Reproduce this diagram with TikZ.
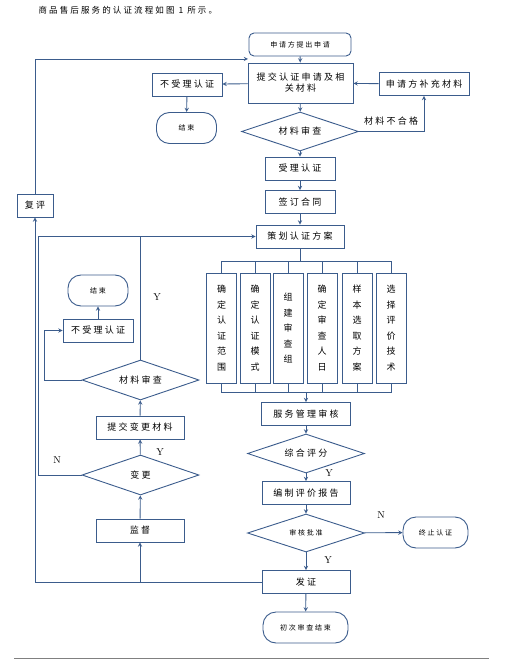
\documentclass[tikz,border=0pt]{standalone}
\usepackage{fontspec}
\usetikzlibrary{shapes.geometric}
\newfontfamily\cjk[LetterSpace=25]{Noto Sans CJK SC}
\definecolor{linecol}{RGB}{59,92,140}
\newcommand{\bigtxt}{\cjk\fontsize{9}{11}\selectfont}
\newcommand{\smalltxt}{\cjk\fontsize{7}{9}\selectfont}
\newcommand{\captxt}{\cjk\fontsize{8.5}{10}\selectfont}
\newcommand{\vtxt}{\cjk\fontsize{9}{15.5}\selectfont}

\tikzset{
  box/.style={draw=linecol, line width=0.9pt, minimum width=88, minimum height=23, inner sep=0pt, font=\bigtxt},
  tbox/.style={box, rounded corners=13pt, minimum width=60, minimum height=31, font=\smalltxt},
  decide/.style={box, diamond, aspect=3, minimum width=117, minimum height=39},
  vbox/.style={box, minimum width=30, minimum height=110, align=center, font=\vtxt},
  flow/.style={draw=linecol, line width=0.9pt},
  lbl/.style={text=black, inner sep=0pt, font=\fontsize{10}{12}\selectfont}
}

\begin{document}
\begin{tikzpicture}[x=1pt, y=-1pt, >=stealth]
    \useasboundingbox (0,0) rectangle (521,660);
    \node[anchor=west, font=\captxt] (cap) at (35,10) {商品售后服务的认证流程如图 1 所示。};

    % application part
    \node[box, rounded corners=5pt, minimum width=102, font=\smalltxt] (apply) at (300,44.5) {申请方提出申请};
    \node[box, minimum width=105, minimum height=40, align=center] (submit) at (300.5,83) {提交认证申请及相\\关材料};
    \node[box, minimum width=70] (reject1) at (187,84.5) {不受理认证};
    \node[tbox] (end1) at (186.5,128) {结束};
    \node[box, minimum width=90] (supply) at (424,84) {申请方补充材料};
    \node[decide] (check1) at (300,131.5) {材料审查};
    \node[box, minimum width=70] (accept) at (300,168.5) {受理认证};
    \node[box, minimum width=70] (contract) at (300,202) {签订合同};
    \node[box] (plan) at (300,236.5) {策划认证方案};
    \node[box, minimum width=36] (review) at (35,205.5) {复评};
    \node[lbl, font=\bigtxt] (fail) at (391,121) {材料不合格};

    \draw[flow,->] (apply) -- (submit);
    \draw[flow,->] (submit) -- (reject1);
    \draw[flow,->] (reject1) -- (end1);
    \draw[flow,->] (supply) -- (submit);
    \draw[flow,->] (submit) -- (check1);
    \draw[flow,->] (check1.east) -| (supply.south);
    \draw[flow,->] (check1) -- (accept);
    \draw[flow,->] (accept) -- (contract);
    \draw[flow,->] (contract) -- (plan);
    \coordinate (reentry) at (248,59);
    \draw[flow,->] (review.north) |- (reentry);

    % six tasks
    \foreach \x/\txt [count=\i] in {221.5/{确\\定\\认\\证\\范\\围}, 255/{确\\定\\认\\证\\模\\式},
        288/{组\\建\\审\\查\\组}, 322/{确\\定\\审\\查\\人\\日},
        357/{样\\本\\选\\取\\方\\案}, 391/{选\\择\\评\\价\\技\\术}}
        \node[vbox] (b\i) at (\x,328) {\txt};
    \coordinate (bustop) at (300,261);
    \coordinate (busbot) at (306,392);
    \draw[flow] (plan) -- (bustop);
    \foreach \i in {1,...,6}
        \draw[flow] (bustop) -| (b\i.north);
    \foreach \i in {1,...,6}
        \draw[flow] (b\i.south) |- (busbot);

    % evaluation part
    \node[box, minimum width=89] (mgmt) at (306,414) {服务管理审核};
    \node[decide] (score) at (306,453.5) {综合评分};
    \node[box] (report) at (306,493) {编制评价报告};
    \node[decide, minimum height=38, font=\smalltxt] (approve) at (306,533) {审核批准};
    \node[tbox, minimum width=65] (stop) at (435.5,532.5) {终止认证};
    \node[box] (cert) at (306,582) {发证};
    \node[tbox, minimum width=85] (end3) at (305.5,627.5) {初次审查结束};
    \node[lbl] (y3) at (329,473) {Y};
    \node[lbl] (n2) at (381,515) {N};
    \node[lbl] (y4) at (328,560) {Y};

    \draw[flow,->] (busbot) -- (mgmt);
    \draw[flow,->] (mgmt) -- (score);
    \draw[flow,->] (score) -- (report);
    \draw[flow,->] (report) -- (approve);
    \draw[flow,->] (approve) -- (stop);
    \draw[flow,->] (approve) -- (cert);
    \draw[flow,->] (cert) -- (end3);

    % surveillance part
    \node[tbox] (end2) at (98,290.5) {结束};
    \node[box, minimum width=70] (reject2) at (98,330.5) {不受理认证};
    \node[decide, minimum height=40] (check2) at (140.5,380) {材料审查};
    \node[box] (submitchg) at (140,427.5) {提交变更材料};
    \node[decide, minimum height=40] (change) at (140.5,475) {变更};
    \node[box] (monitor) at (140,530.5) {监督};
    \node[lbl] (y1) at (157,297) {Y};
    \node[lbl] (y2) at (160,452) {Y};
    \node[lbl] (n1) at (57,460) {N};

    \draw[flow,->] (cert.west) -| (review.south);
    \draw[flow,->] (monitor.south |- cert.west) -- (monitor);
    \draw[flow,->] (monitor) -- (change);
    \draw[flow,->] (change) -- (submitchg);
    \draw[flow,->] (change.west) -- ++(-43,0) |- (plan.west);
    \draw[flow,->] (submitchg) -- (check2);
    \draw[flow] (check2.north) -- (check2.north |- plan.west);
    \draw[flow,->] (check2.west) -- ++(-37,0) |- (reject2.west);
    \draw[flow,->] (reject2) -- (end2);

    \draw[gray, line width=1pt] (14,658) -- (489,658);
\end{tikzpicture}
\end{document}
